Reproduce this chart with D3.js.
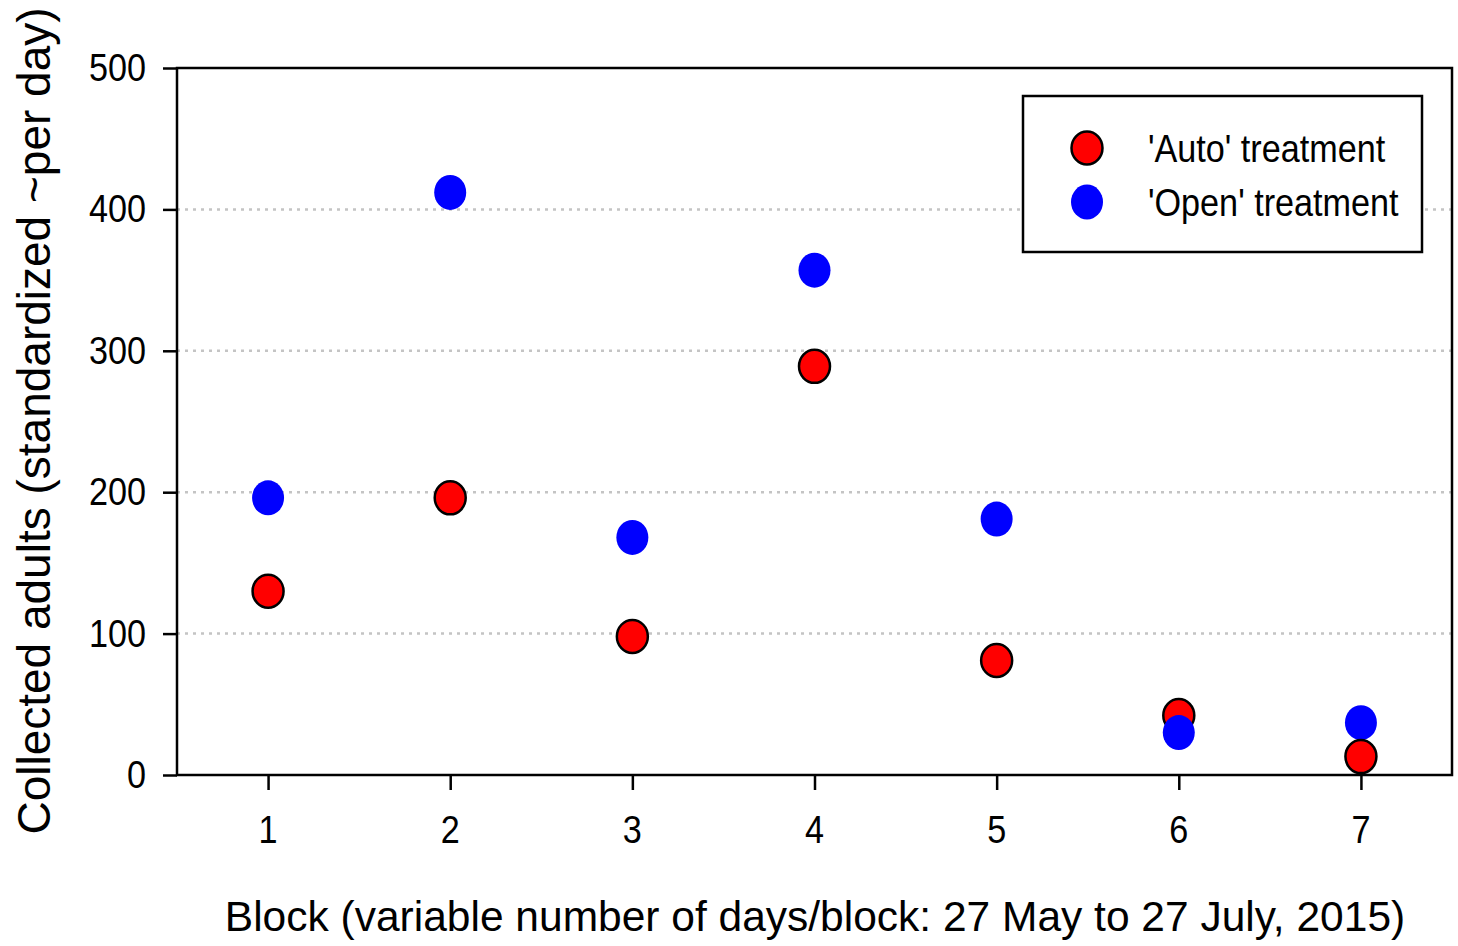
<!DOCTYPE html>
<html>
<head>
<meta charset="utf-8">
<script src="https://cdn.jsdelivr.net/npm/d3@7"></script>
<style>
  html, body { margin: 0; padding: 0; background: #fff; }
  svg { display: block; }
  text { font-family: "Liberation Sans", Arial, sans-serif; fill: #000; }
</style>
</head>
<body>
<svg id="chart" width="1458" height="946"></svg>
<script>
// Collected adults per block, standardized to roughly per day
const blocks = [1, 2, 3, 4, 5, 6, 7];
const autoValues = [130, 196, 98, 289, 81, 42, 13];
const openValues = [196, 412, 168, 357, 181, 30, 37];
const yTicks = [0, 100, 200, 300, 400, 500];
const gridValues = [100, 200, 300, 400];
const seriesNames = ["'Auto' treatment", "'Open' treatment"];
const xTitle = "Block (variable number of days/block: 27 May to 27 July, 2015)";
const yTitle = "Collected adults (standardized ~per day)";

const W = 1458, H = 946;
const margin = { left: 177, right: 6, top: 68, bottom: 171 };
const plotW = W - margin.left - margin.right;
const plotH = H - margin.top - margin.bottom;
const FONT = 38;
const SX = 0.9; // narrow glyph width for ticks and legend

const svg = d3.select("#chart");
const g = svg.append("g").attr("transform", `translate(${margin.left},${margin.top})`);

const x = d3.scaleLinear().domain([0.5, 7.5]).range([0, plotW]);
const y = d3.scaleLinear().domain([0, 500]).range([plotH, 0]);

// horizontal dotted gridlines
g.append("g").selectAll("line").data(gridValues).join("line")
  .attr("x1", 0).attr("x2", plotW)
  .attr("y1", d => y(d)).attr("y2", d => y(d))
  .attr("stroke", "#c4c4c4").attr("stroke-width", 2.5)
  .attr("stroke-dasharray", "3,5");

// frame
g.append("rect").attr("x", 0).attr("y", 0).attr("width", plotW).attr("height", plotH)
  .attr("fill", "none").attr("stroke", "#000").attr("stroke-width", 2.5);

// helper: text with optional horizontal compression around its anchor
function label(parent, tx, ty, str, anchor, size, rotate, sx) {
  const s = sx === undefined ? SX : sx;
  const grp = parent.append("g")
    .attr("transform", `translate(${tx},${ty})` + (rotate ? ` rotate(${rotate})` : "") + ` scale(${s},1)`);
  grp.append("text").attr("text-anchor", anchor).attr("font-size", size).text(str);
  return grp;
}

// y axis
const yAxis = g.append("g").call(d3.axisLeft(y).tickValues(yTicks).tickSize(14).tickFormat(""));
yAxis.select(".domain").remove();
yAxis.selectAll(".tick line").attr("stroke", "#000").attr("stroke-width", 2.5);
yTicks.forEach(v => label(g, -31, y(v) + 13, String(v), "end", FONT));

// x axis
const xAxis = g.append("g").attr("transform", `translate(0,${plotH})`)
  .call(d3.axisBottom(x).tickValues(blocks).tickSize(15).tickFormat(""));
xAxis.select(".domain").remove();
xAxis.selectAll(".tick line").attr("stroke", "#000").attr("stroke-width", 2.5);
blocks.forEach(b => label(g, x(b), plotH + 68, String(b), "middle", FONT));

// axis titles
label(svg, 815, 931, xTitle, "middle", 42.5, 0, 1);
label(svg, 50, 421, yTitle, "middle", 46, -90, 1);

// points: higher values first so lower markers sit on top
const points = [];
blocks.forEach((b, i) => {
  points.push({ block: b, value: autoValues[i], series: 0 });
  points.push({ block: b, value: openValues[i], series: 1 });
});
points.sort((a, b) => b.value - a.value);

const fills = ["#ff0000", "#0000ff"];
g.append("g").selectAll("ellipse").data(points).join("ellipse")
  .attr("cx", d => x(d.block)).attr("cy", d => y(d.value))
  .attr("rx", d => d.series === 0 ? 15.5 : 16)
  .attr("ry", d => d.series === 0 ? 16.5 : 17.5)
  .attr("fill", d => fills[d.series])
  .attr("stroke", d => d.series === 0 ? "#000" : "none")
  .attr("stroke-width", 2.5);

// legend
const lg = svg.append("g").attr("transform", "translate(1023,96)");
lg.append("rect").attr("width", 399).attr("height", 156)
  .attr("fill", "#fff").attr("stroke", "#000").attr("stroke-width", 2.5);
seriesNames.forEach((name, i) => {
  lg.append("ellipse").attr("cx", 64).attr("cy", 52 + i * 54)
    .attr("rx", i === 0 ? 15.5 : 16).attr("ry", i === 0 ? 16.5 : 17.5)
    .attr("fill", fills[i])
    .attr("stroke", i === 0 ? "#000" : "none").attr("stroke-width", 2.5);
  label(lg, 125, 66 + i * 54, name, "start", FONT);
});
</script>
</body>
</html>
